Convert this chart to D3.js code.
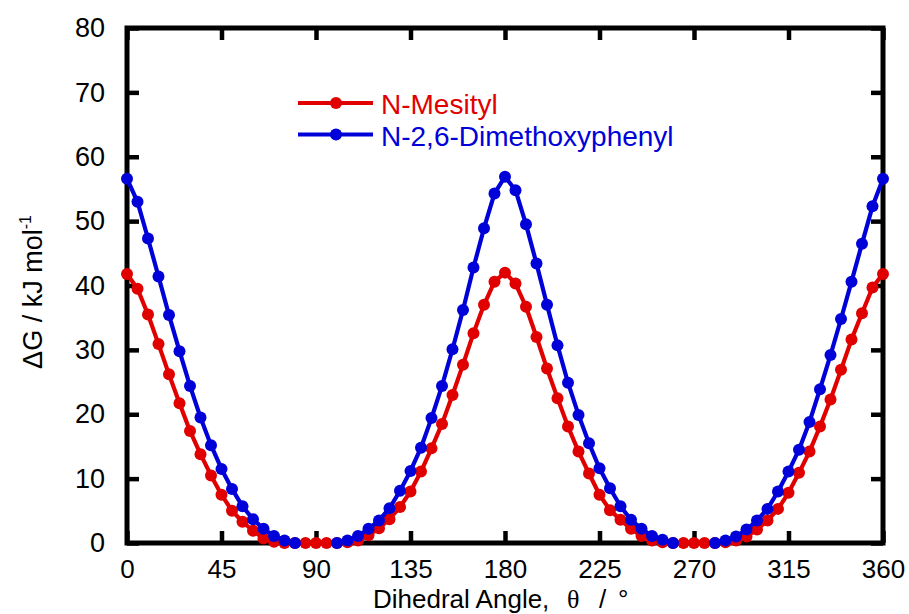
<!DOCTYPE html>
<html>
<head>
<meta charset="utf-8">
<script src="https://cdn.jsdelivr.net/npm/d3@7"></script>
<style>
  html, body { margin: 0; padding: 0; background: #fff; }
  svg { display: block; }
  text { font-family: "Liberation Sans", Arial, sans-serif; }
</style>
</head>
<body>
<script>
// ---- data ----
const angles = d3.range(0, 361, 5);
const mesityl = [
  41.8, 39.5, 35.5, 30.9, 26.2, 21.7, 17.4, 13.8, 10.5, 7.5,
  5.0, 3.3, 1.9, 0.7, 0.2, 0.0, 0.0, 0.0, 0.0, 0.0,
  0.0, 0.1, 0.4, 1.2, 2.3, 3.7, 5.6, 8.0, 11.1, 14.7,
  18.5, 23.0, 27.7, 32.6, 37.0, 40.6, 42.0, 40.3, 36.7, 32.0,
  27.1, 22.5, 18.1, 14.2, 10.8, 7.5, 5.1, 3.6, 2.2, 1.1,
  0.4, 0.1, 0.0, 0.0, 0.0, 0.0, 0.0, 0.1, 0.4, 1.0,
  2.1, 3.5, 5.3, 7.8, 10.9, 14.2, 18.1, 22.3, 26.9, 31.6,
  35.7, 39.7, 41.8
];
const dimethoxy = [
  56.6, 53.0, 47.3, 41.4, 35.4, 29.8, 24.4, 19.5, 15.2, 11.5,
  8.4, 5.7, 3.7, 2.2, 1.1, 0.4, 0.0, null, null, null,
  0.0, 0.4, 1.1, 2.2, 3.5, 5.4, 8.1, 11.2, 14.8, 19.4,
  24.4, 30.1, 36.2, 42.8, 48.9, 54.3, 56.9, 54.8, 49.5, 43.4,
  37.0, 30.7, 24.9, 19.9, 15.5, 11.6, 8.5, 5.7, 3.6, 2.2,
  1.1, 0.5, 0.0, null, null, null, 0.0, 0.4, 1.0, 2.1,
  3.5, 5.3, 8.0, 11.1, 14.5, 18.8, 23.9, 29.2, 34.8, 40.6,
  46.5, 52.3, 56.6
];
const seriesNames = ["N-Mesityl", "N-2,6-Dimethoxyphenyl"];
const seriesColors = ["#e00000", "#0000d8"];
const xTicks = [0, 45, 90, 135, 180, 225, 270, 315, 360];
const yTicks = [0, 10, 20, 30, 40, 50, 60, 70, 80];

// ---- layout ----
const W = 909, H = 614;
const L = 127, R = 883, T = 28, B = 543;
const svg = d3.select("body").append("svg").attr("width", W).attr("height", H);
svg.append("rect").attr("width", W).attr("height", H).attr("fill", "#fff");

const x = d3.scaleLinear().domain([0, 360]).range([L, R]);
const y = d3.scaleLinear().domain([0, 80]).range([B, T]);

const tickLen = 12;
const frameW = 5;

// axes (ticks inward on all four sides)
const gAxes = svg.append("g");
const axisStyle = (g, size) => {
  g.select(".domain").remove();
  g.selectAll(".tick line").attr("stroke", "#000").attr("stroke-width", 4.5);
  g.selectAll(".tick text").attr("fill", "#000").style("font-size", size + "px");
};
gAxes.append("g").attr("transform", `translate(0,${B})`)
  .call(d3.axisBottom(x).tickValues(xTicks).tickSize(-tickLen).tickPadding(17).tickFormat(d3.format("d")))
  .call(axisStyle, 26);
gAxes.append("g").attr("transform", `translate(0,${T})`)
  .call(d3.axisTop(x).tickValues(xTicks).tickSize(-tickLen).tickFormat(""))
  .call(axisStyle, 26);
gAxes.append("g").attr("transform", `translate(${L},0)`)
  .call(d3.axisLeft(y).tickValues(yTicks).tickSize(-tickLen).tickPadding(22).tickFormat(d3.format("d")))
  .call(axisStyle, 27);
gAxes.append("g").attr("transform", `translate(${R},0)`)
  .call(d3.axisRight(y).tickValues(yTicks).tickSize(-tickLen).tickFormat(""))
  .call(axisStyle, 27);
gAxes.selectAll("text").attr("font-family", "'Liberation Sans', Arial, sans-serif");

// frame
svg.append("rect").attr("x", L).attr("y", T).attr("width", R - L).attr("height", B - T)
  .attr("fill", "none").attr("stroke", "#000").attr("stroke-width", frameW);

// data
const series = [mesityl, dimethoxy];
const line = d3.line()
  .defined(d => d[1] !== null)
  .x(d => x(d[0])).y(d => y(d[1]));
series.forEach((vals, i) => {
  const pts = angles.map((a, j) => [a, vals[j]]);
  const g = svg.append("g");
  g.append("path").datum(pts).attr("d", line)
    .attr("fill", "none").attr("stroke", seriesColors[i]).attr("stroke-width", 4.2)
    .attr("stroke-linejoin", "round");
  g.selectAll("circle").data(pts.filter(d => d[1] !== null)).join("circle")
    .attr("cx", d => x(d[0])).attr("cy", d => y(d[1])).attr("r", 6)
    .attr("fill", seriesColors[i]);
});

// legend
const legY = [103, 134.5];
seriesNames.forEach((name, i) => {
  const g = svg.append("g");
  g.append("line").attr("x1", 298).attr("x2", 373).attr("y1", legY[i]).attr("y2", legY[i])
    .attr("stroke", seriesColors[i]).attr("stroke-width", 4.2);
  g.append("circle").attr("cx", 336).attr("cy", legY[i]).attr("r", 6).attr("fill", seriesColors[i]);
  g.append("text").attr("x", 381).attr("y", legY[i] + 11).attr("fill", seriesColors[i])
    .style("font-size", "28px").text(name);
});

// axis titles
const xt = svg.append("text").attr("x", 373).attr("y", 608)
  .style("font-size", "26px").attr("fill", "#000");
xt.append("tspan").text("Dihedral Angle,");
xt.append("tspan").attr("x", 567).style("font-family", "'Liberation Serif', serif").text("θ");
xt.append("tspan").attr("x", 599).text("/");
xt.append("tspan").attr("x", 618).text("°");

const yt = svg.append("text").attr("transform", "translate(42,292) rotate(-90)")
  .attr("text-anchor", "middle").style("font-size", "27px").attr("fill", "#000");
yt.append("tspan").text("ΔG / kJ mol");
yt.append("tspan").attr("dy", -11).style("font-size", "16px").text("-1");
</script>
</body>
</html>
